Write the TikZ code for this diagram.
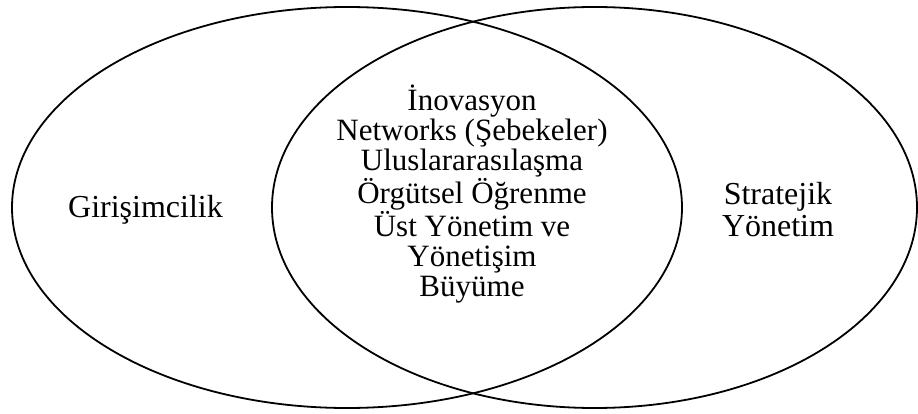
\documentclass[tikz,border=0pt]{standalone}
\usepackage{fontspec}
\setmainfont{Liberation Serif}
\begin{document}
\begin{tikzpicture}[x=1pt,y=-1pt,
  ring/.style={draw=black,line width=1.8pt},
  label/.style={font=\fontsize{32}{32}\selectfont,inner sep=0pt,align=center}]
  \useasboundingbox (0,0) rectangle (918,414);
  % two overlapping fields
  \draw[ring] (347,207.5) ellipse [x radius=335, y radius=200.5];
  \draw[ring] (594.5,207.5) ellipse [x radius=322.5, y radius=200.5];
  % field names
  \node[label,anchor=base] (left) at (145.5,218) {Girişimcilik};
  \node[label] (right) at (778,210) {Stratejik\\Yönetim};
  % shared topics in the overlap
  \node[label,font=\fontsize{31}{30}\selectfont] (common) at (472,194) {İnovasyon\\Networks (Şebekeler)\\Uluslararasılaşma\\Örgütsel Öğrenme\\Üst Yönetim ve\\Yönetişim\\Büyüme};
\end{tikzpicture}
\end{document}
